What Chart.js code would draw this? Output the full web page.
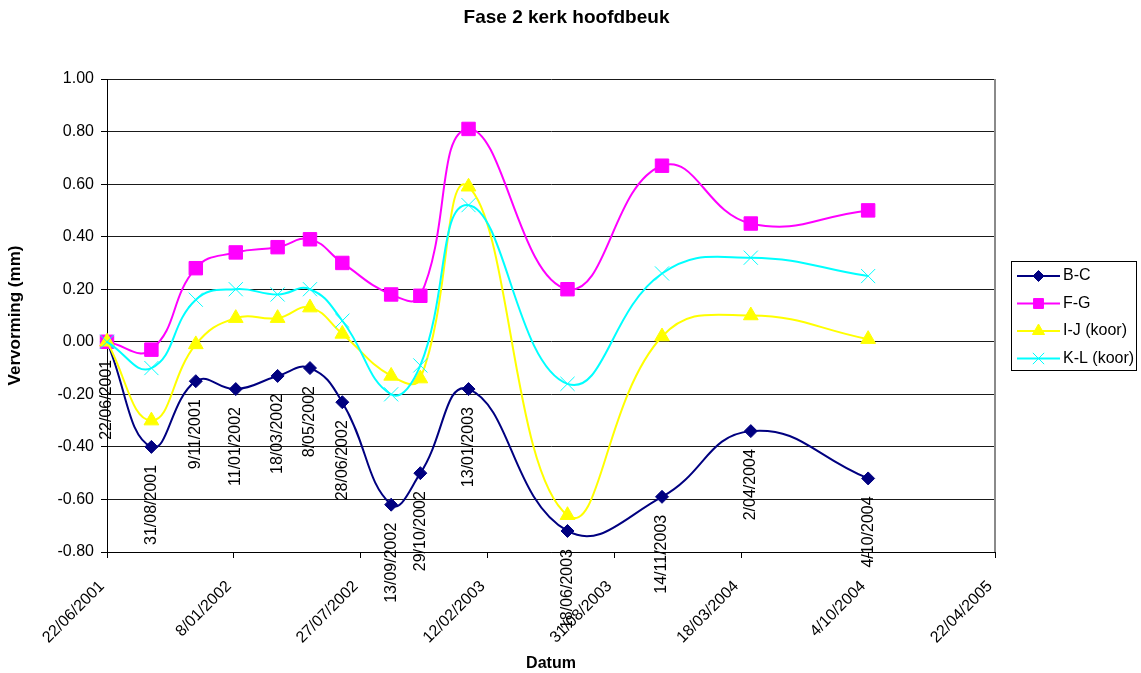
<!DOCTYPE html>
<html>
<head>
<meta charset="utf-8">
<title>Fase 2 kerk hoofdbeuk</title>
<script src="https://cdn.jsdelivr.net/npm/chart.js@4.4.1/dist/chart.umd.min.js"></script>
<style>
  html, body { margin: 0; padding: 0; background: #ffffff; }
  #wrap { width: 1141px; height: 673px; position: relative; }
</style>
</head>
<body>
<div id="wrap"><canvas id="chart" width="1141" height="673"></canvas></div>
<script>
// Measurement dates (d/mm/yyyy) and deformation per measuring pair, in mm
const measureDates = ['22/06/2001', '31/08/2001', '9/11/2001', '11/01/2002', '18/03/2002', '8/05/2002', '28/06/2002',
                      '13/09/2002', '29/10/2002', '13/01/2003', '18/06/2003', '14/11/2003', '2/04/2004', '4/10/2004'];
const bcValues = [0.00, -0.40, -0.15, -0.18, -0.13, -0.10, -0.23, -0.62, -0.50, -0.18, -0.72, -0.59, -0.34, -0.52];
const fgValues = [0.00, -0.03, 0.28, 0.34, 0.36, 0.39, 0.30, 0.18, 0.175, 0.81, 0.20, 0.67, 0.45, 0.50];
const ijValues = [0.00, -0.30, -0.01, 0.09, 0.09, 0.13, 0.03, -0.13, -0.14, 0.59, -0.66, 0.02, 0.10, 0.01];
const klValues = [0.00, -0.10, 0.16, 0.20, 0.18, 0.20, 0.08, -0.20, -0.09, 0.52, -0.16, 0.26, 0.32, 0.25];
const seriesNames = ['B-C', 'F-G', 'I-J (koor)', 'K-L (koor)'];
const chartTitle = 'Fase 2 kerk hoofdbeuk';

// Date axis ticks (every 200 days) and value axis range
const dateTicks = ['22/06/2001', '8/01/2002', '27/07/2002', '12/02/2003', '31/08/2003', '18/03/2004', '4/10/2004', '22/04/2005'];
const yMin = -0.8, yMax = 1.0, yStep = 0.2;

const FONT = '"Liberation Sans", Arial, Helvetica, sans-serif';
const MS_DAY = 86400000;

function dayNumber(s) {
  const [d, m, y] = s.split('/').map(Number);
  return Math.round(Date.UTC(y, m - 1, d) / MS_DAY);
}
const xValues = measureDates.map(dayNumber);
const tickDays = dateTicks.map(dayNumber);
const toPoints = vals => vals.map((v, i) => ({ x: xValues[i], y: v }));

const styles = [
  { color: '#000080', pointStyle: 'rectRot', radius: 6.5, legendRadius: 5.5, pointBorderWidth: 1 },
  { color: '#ff00ff', pointStyle: 'rect', radius: 9.5, legendRadius: 7, pointBorderWidth: 1 },
  { color: '#ffff00', pointStyle: 'triangle', radius: 8.5, legendRadius: 7, pointBorderWidth: 1 },
  { color: '#00ffff', pointStyle: 'crossRot', radius: 10, legendRadius: 8, pointBorderWidth: 1 }
];
const seriesValues = [bcValues, fgValues, ijValues, klValues];

const datasets = seriesValues.map((vals, i) => ({
  label: seriesNames[i],
  data: toPoints(vals),
  borderColor: styles[i].color,
  backgroundColor: styles[i].color,
  borderWidth: 2,
  tension: 0.45,
  pointStyle: styles[i].pointStyle,
  pointRadius: styles[i].radius,
  pointHoverRadius: styles[i].radius,
  pointBorderWidth: styles[i].pointBorderWidth,
  pointBackgroundColor: styles[i].color,
  pointBorderColor: styles[i].color,
  order: seriesValues.length - 1 - i,
  clip: false
}));

// Chart title, centred on the whole canvas
const canvasTitle = {
  id: 'canvasTitle',
  afterDraw(chart) {
    const { ctx, width } = chart;
    ctx.save();
    ctx.fillStyle = '#000000';
    ctx.font = 'bold 19px ' + FONT;
    ctx.textAlign = 'center';
    ctx.textBaseline = 'middle';
    ctx.fillText(chartTitle, width / 2 - 4, 18);
    ctx.restore();
  }
};

// Gray frame on the right edge of the plot area
const plotFrame = {
  id: 'plotFrame',
  beforeDatasetsDraw(chart) {
    const { ctx, chartArea: a } = chart;
    ctx.save();
    ctx.strokeStyle = '#8a8a8a';
    ctx.lineWidth = 2;
    ctx.beginPath();
    ctx.moveTo(a.right, a.top);
    ctx.lineTo(a.right, a.bottom);
    ctx.stroke();
    ctx.restore();
  }
};

// Vertical date labels under each B-C point
const dateLabels = {
  id: 'dateLabels',
  afterDatasetsDraw(chart) {
    const { ctx } = chart;
    const meta = chart.getDatasetMeta(0);
    ctx.save();
    ctx.fillStyle = '#000000';
    ctx.font = '16px ' + FONT;
    ctx.textAlign = 'right';
    ctx.textBaseline = 'middle';
    meta.data.forEach((pt, i) => {
      ctx.save();
      ctx.translate(pt.x, pt.y + 18);
      ctx.rotate(-Math.PI / 2);
      ctx.fillText(measureDates[i], 0, 0);
      ctx.restore();
    });
    ctx.restore();
  }
};

function drawMarker(ctx, style, radius, x, y) {
  const opts = { pointStyle: style.pointStyle, radius: radius, borderWidth: style.pointBorderWidth, rotation: 0 };
  ctx.fillStyle = style.color;
  ctx.strokeStyle = style.color;
  ctx.lineWidth = style.pointBorderWidth;
  if (Chart.helpers && Chart.helpers.drawPoint) {
    Chart.helpers.drawPoint(ctx, opts, x, y);
  }
}

// Boxed legend with line + marker samples
const boxLegend = {
  id: 'boxLegend',
  afterDraw(chart) {
    const { ctx } = chart;
    const left = 1011.5, top = 261.5, w = 125, h = 109;
    ctx.save();
    ctx.fillStyle = '#ffffff';
    ctx.fillRect(left, top, w, h);
    ctx.strokeStyle = '#000000';
    ctx.lineWidth = 1;
    ctx.strokeRect(left, top, w, h);
    ctx.font = '16px ' + FONT;
    ctx.textAlign = 'left';
    ctx.textBaseline = 'middle';
    seriesNames.forEach((name, i) => {
      const y = 276 + i * 27.5;
      ctx.strokeStyle = styles[i].color;
      ctx.lineWidth = 2;
      ctx.beginPath();
      ctx.moveTo(1017, y);
      ctx.lineTo(1060, y);
      ctx.stroke();
      drawMarker(ctx, styles[i], styles[i].legendRadius, 1038.5, y);
      ctx.fillStyle = '#000000';
      ctx.fillText(name, 1063, y);
    });
    ctx.restore();
  }
};

function fmtValue(v) {
  const r = Math.abs(v) < 1e-9 ? 0 : v;
  return r.toFixed(2);
}

new Chart(document.getElementById('chart'), {
  type: 'line',
  data: { datasets },
  plugins: [plotFrame, dateLabels, boxLegend, canvasTitle],
  options: {
    responsive: false,
    animation: false,
    events: [],
    layout: { padding: { left: 0, right: 146, top: 79, bottom: 0 } },
    plugins: {
      legend: { display: false },
      tooltip: { enabled: false },
      title: { display: false }
    },
    scales: {
      x: {
        type: 'linear',
        min: tickDays[0],
        max: tickDays[tickDays.length - 1],
        afterBuildTicks(scale) {
          scale.ticks = tickDays.map(v => ({ value: v }));
        },
        afterFit(scale) { scale.height = 121; },
        ticks: {
          autoSkip: false,
          maxRotation: 45,
          minRotation: 45,
          padding: 19,
          labelOffset: -5,
          color: '#000000',
          font: { family: FONT, size: 16 },
          callback: (value, index) => dateTicks[index]
        },
        grid: { drawOnChartArea: false, drawTicks: true, tickLength: 6, color: '#000000', tickColor: '#000000' },
        border: { display: true, color: '#000000', width: 1 },
        title: {
          display: true,
          text: 'Datum',
          color: '#000000',
          font: { family: FONT, size: 16, weight: 'bold' },
          padding: { top: 0, bottom: 0 }
        }
      },
      y: {
        type: 'linear',
        min: yMin,
        max: yMax,
        afterFit(scale) { scale.width = 107; },
        ticks: {
          stepSize: yStep,
          padding: 7,
          color: '#000000',
          font: { family: FONT, size: 16 },
          callback: v => fmtValue(v)
        },
        grid: { drawOnChartArea: true, drawTicks: true, tickLength: 6, color: '#1a1a1a', tickColor: '#000000', lineWidth: 1 },
        border: { display: true, color: '#000000', width: 1 },
        title: {
          display: true,
          text: 'Vervorming (mm)',
          color: '#000000',
          font: { family: FONT, size: 17, weight: 'bold' },
          padding: { top: 5, bottom: 0 }
        }
      }
    }
  }
});
</script>
</body>
</html>
